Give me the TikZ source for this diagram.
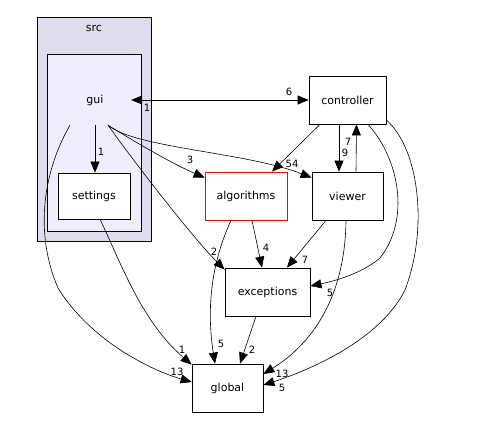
\documentclass[tikz,border=0pt]{standalone}
\usepackage{fontspec}
\setmainfont{DejaVu Sans}
\usetikzlibrary{arrows.meta}
\definecolor{srcfill}{HTML}{DDDDEE}
\definecolor{guifill}{HTML}{EEEEFF}
\begin{document}
\begin{tikzpicture}[x=1pt,y=-1pt,
  box/.style={draw=black,line width=0.8pt,fill=white,inner sep=0pt,font=\fontsize{11}{13}\selectfont},
  cluster/.style={draw=black,line width=0.8pt,inner sep=0pt},
  tipstyle/.style={line width=0.6pt},
  edge/.style={line width=0.6pt,-{Triangle[length=11pt,width=9pt]}},
  lbl/.style={font=\fontsize{10}{12}\selectfont,inner sep=0pt}]
\useasboundingbox (0,0) rectangle (492,430);
% clusters
\node[cluster,fill=srcfill,minimum width=114pt,minimum height=224pt] (src) at (94,129) {};
\node[font=\fontsize{11}{13}\selectfont] (srclabel) at (94,29) {src};
\node[cluster,fill=guifill,minimum width=94pt,minimum height=177pt] (guibox) at (94,142.5) {};
\node[inner sep=0pt,minimum width=72pt,minimum height=50pt,font=\fontsize{11}{13}\selectfont] (gui) at (95,100) {gui};
% nodes
\node[box,minimum width=72pt,minimum height=46pt] (settings) at (94,196) {settings};
\node[box,minimum width=77pt,minimum height=48pt] (controller) at (347.5,100) {controller};
\node[box,draw=red,minimum width=82pt,minimum height=48pt] (algorithms) at (246,196) {algorithms};
\node[box,minimum width=71pt,minimum height=48pt] (viewer) at (347.5,196) {viewer};
\node[box,minimum width=85pt,minimum height=48pt] (exceptions) at (267.5,292) {exceptions};
\node[box,minimum width=71pt,minimum height=48pt] (global) at (227.5,388) {global};
% edges
\draw[edge] (gui.south) -- ([xshift=1pt]settings.north);
\draw[tipstyle,{Triangle[length=11pt,width=9pt]}-{Triangle[length=11pt,width=9pt]}] (gui.east) -- (controller.west);
\draw[edge] ([xshift=13pt]gui.south) .. controls (140,145) and (175,165) .. ([yshift=-6pt]algorithms.north west);
\draw[edge] ([xshift=13pt]gui.south) .. controls (135,148) and (245,152) .. ([yshift=-6pt]viewer.north west);
\draw[edge] ([xshift=13pt]gui.south) .. controls (140,170) and (195,240) .. ([yshift=-2pt]exceptions.north west);
\draw[edge] ([xshift=-25pt]gui.south) .. controls (45,168) and (33,230) .. (58,288) .. controls (90,340) and (150,370) .. ([yshift=6pt]global.west);
\draw[edge] ([xshift=6pt]settings.south) .. controls (120,260) and (140,320) .. ([yshift=-1pt]global.north west);
\draw[edge] ([xshift=-27.5pt]controller.south) -- ([xshift=26pt]algorithms.north);
\draw[edge] ([xshift=-8.5pt]controller.south) -- ([xshift=-8.5pt]viewer.north);
\draw[edge] ([xshift=8.5pt]viewer.north) -- ([xshift=9pt]controller.south);
\draw[edge] ([xshift=20.5pt]controller.south) .. controls (400,160) and (410,220) .. (380,258) .. controls (360,275) and (330,282) .. ([yshift=6pt]exceptions.east);
\draw[edge] ([yshift=-20pt]controller.east) .. controls (420,150) and (428,230) .. (405,290) .. controls (380,340) and (310,370) .. ([yshift=3pt]global.east);
\draw[edge] ([xshift=6pt]algorithms.south) -- ([xshift=-5.5pt]exceptions.north);
\draw[edge] ([xshift=-15pt]algorithms.south) .. controls (215,255) and (205,300) .. ([xshift=-12.5pt]global.north);
\draw[edge] ([xshift=-21.5pt]viewer.south) -- ([xshift=19.5pt]exceptions.north);
\draw[edge] ([xshift=-1.5pt]viewer.south) .. controls (345,300) and (310,345) .. ([yshift=14pt]global.east);
\draw[edge] ([xshift=-11.5pt]exceptions.south) -- ([xshift=12.5pt]global.north);
% labels
\node[lbl] (l1) at (101,152) {1};
\node[lbl] (l2) at (289,92) {6};
\node[lbl] (l3) at (147,108) {1};
\node[lbl] (l4) at (190,160) {3};
\node[lbl] (l5) at (292,164) {54};
\node[lbl] (l6) at (214,252) {2};
\node[lbl] (l7) at (177,372) {13};
\node[lbl] (l8) at (182,350) {1};
\node[lbl] (l9) at (348,142) {7};
\node[lbl] (l10) at (345,153) {9};
\node[lbl] (l11) at (330,293) {5};
\node[lbl] (l12) at (282,388) {5};
\node[lbl] (l13) at (282,374) {13};
\node[lbl] (l14) at (266,248) {4};
\node[lbl] (l15) at (221,344) {5};
\node[lbl] (l16) at (305,260) {7};
\node[lbl] (l17) at (252,350) {2};
\end{tikzpicture}
\end{document}
